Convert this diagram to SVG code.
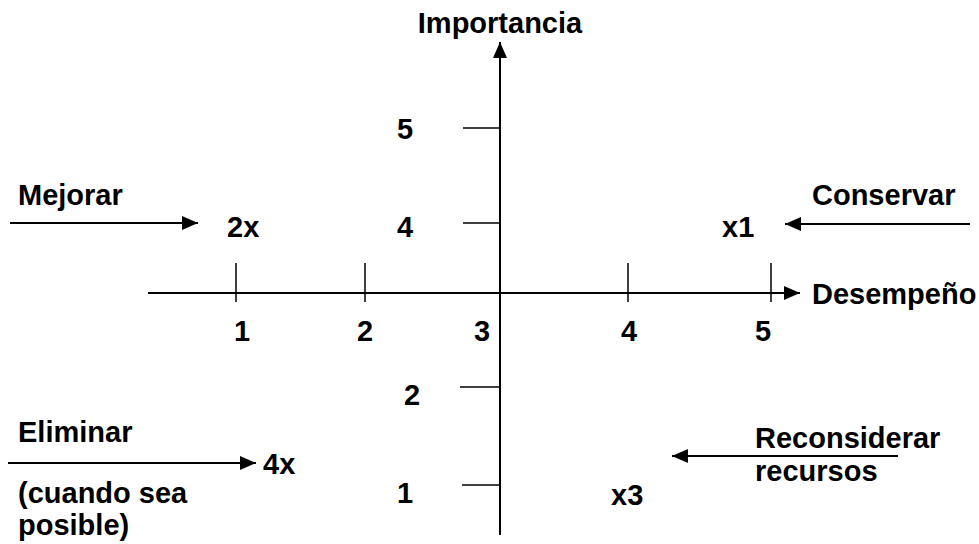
<svg xmlns="http://www.w3.org/2000/svg" width="979" height="544" viewBox="0 0 979 544">
<style>
text{font-family:"Liberation Sans",Arial,sans-serif;font-weight:bold;font-size:29px;fill:#000}
.ln{stroke:#000;stroke-width:2;fill:none}
.tk{stroke:#000;stroke-width:1.5;fill:none}
</style>
<defs>
<marker id="ah" viewBox="0 0 16 14" refX="16" refY="7" markerWidth="16" markerHeight="14" markerUnits="userSpaceOnUse" orient="auto">
<path d="M0,0 L16,7 L0,14 Z" fill="#000"/>
</marker>
</defs>
<rect width="979" height="544" fill="#fff"/>
<g id="connectors">
<line class="ln" x1="500" y1="535" x2="500" y2="42" marker-end="url(#ah)"/>
<line class="ln" x1="148" y1="293" x2="800" y2="293" marker-end="url(#ah)"/>
<line class="tk" x1="236" y1="263" x2="236" y2="302"/>
<line class="tk" x1="365" y1="263" x2="365" y2="302"/>
<line class="tk" x1="628" y1="263" x2="628" y2="302"/>
<line class="tk" x1="771" y1="263" x2="771" y2="302"/>
<line class="tk" x1="463" y1="128" x2="500" y2="128"/>
<line class="tk" x1="463" y1="223" x2="500" y2="223"/>
<line class="tk" x1="460" y1="387" x2="500" y2="387"/>
<line class="tk" x1="462" y1="485" x2="500" y2="485"/>
<line class="ln" x1="10" y1="223" x2="198" y2="223" marker-end="url(#ah)"/>
<line class="ln" x1="970" y1="224" x2="785" y2="224" marker-end="url(#ah)"/>
<line class="ln" x1="8" y1="463" x2="256" y2="463" marker-end="url(#ah)"/>
<line class="ln" x1="898" y1="456" x2="672" y2="456" marker-end="url(#ah)"/>
</g>
<g id="axis-y-label"><text x="500" y="33" text-anchor="middle">Importancia</text></g>
<g id="axis-x-label"><text x="812" y="304">Desempeño</text></g>
<g id="y-ticks">
<text x="397" y="139">5</text>
<text x="397" y="237">4</text>
<text x="404" y="405">2</text>
<text x="397" y="503">1</text>
</g>
<g id="x-ticks">
<text x="234" y="341">1</text>
<text x="357" y="341">2</text>
<text x="474" y="341">3</text>
<text x="621" y="341">4</text>
<text x="755" y="341">5</text>
</g>
<g id="mejorar"><text x="18" y="205">Mejorar</text><text x="227" y="237">2x</text></g>
<g id="conservar"><text x="812" y="205">Conservar</text><text x="722" y="237">x1</text></g>
<g id="eliminar"><text x="18" y="442">Eliminar</text><text x="263" y="474">4x</text><text x="18" y="503">(cuando sea</text><text x="18" y="535">posible)</text></g>
<g id="reconsiderar"><text x="755" y="448">Reconsiderar</text><text x="755" y="481">recursos</text><text x="611" y="505">x3</text></g>
</svg>
